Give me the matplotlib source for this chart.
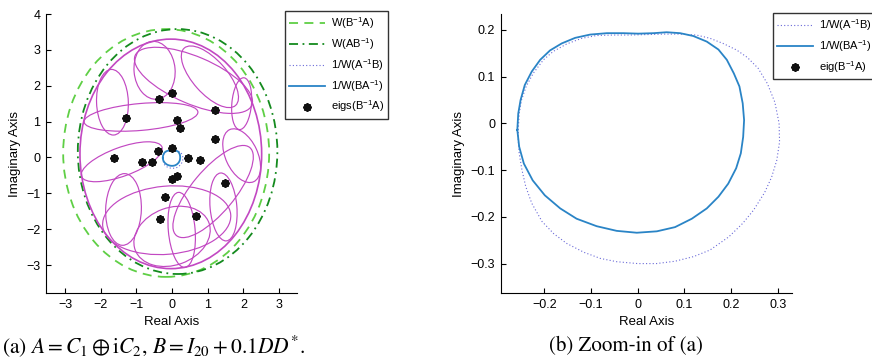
import numpy as np
import matplotlib
matplotlib.use("Agg")
import matplotlib.pyplot as plt
from matplotlib.patches import Ellipse
from matplotlib.lines import Line2D

plt.rcParams["font.family"] = ["Liberation Sans", "DejaVu Sans"]
plt.rcParams["mathtext.default"] = "regular"
plt.rcParams["mathtext.fontset"] = "stix"

# --- eigenvalues of B^-1 A ---
eig_re = [-0.37, 0.00, -1.30, 1.19, 0.15, 0.21, 1.20, 0.00, -0.38, -1.64,
          -0.85, -0.57, 0.46, 0.78, 0.13, -0.01, 1.49, -0.20, -0.33, 0.67]
eig_im = [1.63, 1.79, 1.10, 1.31, 1.04, 0.81, 0.52, 0.25, 0.18, -0.02,
          -0.12, -0.14, -0.02, -0.07, -0.51, -0.59, -0.71, -1.09, -1.72, -1.63]

# --- field of values boundaries (ellipse fits: centre, full axes) ---
w_ba_center = (-0.165, 0.125)
w_ba_axes = (5.77, 6.91)
w_ab_center = (0.155, 0.165)
w_ab_axes = (5.59, 6.83)

# magenta curves (ellipse fits): outer envelope first, then inner loops
loop_cx = [-0.035, -1.67, -0.49, 0.60, 1.06, 1.95, 1.95, -0.87, -1.41,
           -1.36, -0.15, 0.00, 0.27, 1.44, 1.15]
loop_cy = [0.10, 1.54, 2.43, 2.15, 2.25, 1.50, 0.05, 1.13, -0.12,
           -1.45, -1.75, -2.20, -2.02, -1.38, -0.95]
loop_w = [5.09, 1.83, 1.62, 3.55, 2.15, 1.45, 1.60, 3.20, 2.40,
          2.00, 3.60, 2.20, 2.10, 1.90, 3.20]
loop_h = [6.40, 0.89, 1.15, 1.32, 0.95, 0.55, 0.90, 0.75, 0.80,
          1.00, 1.90, 1.60, 0.75, 0.75, 1.20]
loop_ang = [0, 92, 95, -23, -48, 85, -65, 5, 20,
            88, 5, 20, 95, 95, 50]

# --- 1/W(BA^-1) (solid blue) ---
inv_ba_re = [-0.258, -0.256, -0.251, -0.242, -0.227, -0.209, -0.188, -0.163, -0.134,
             -0.102, -0.066, -0.031, 0.001, 0.034, 0.062, 0.091, 0.119, 0.148, 0.173,
             0.191, 0.206, 0.218, 0.225, 0.228, 0.226, 0.221, 0.211, 0.194, 0.173,
             0.148, 0.116, 0.080, 0.041, -0.002, -0.045, -0.088, -0.131, -0.166,
             -0.199, -0.225, -0.244, -0.254, -0.258]
inv_ba_im = [-0.014, 0.021, 0.050, 0.082, 0.111, 0.136, 0.156, 0.171, 0.183,
             0.190, 0.193, 0.193, 0.192, 0.193, 0.195, 0.193, 0.187, 0.175, 0.158,
             0.136, 0.107, 0.079, 0.043, 0.007, -0.029, -0.064, -0.096, -0.129, -0.157,
             -0.182, -0.204, -0.222, -0.231, -0.234, -0.230, -0.220, -0.204, -0.182,
             -0.154, -0.122, -0.086, -0.050, -0.014]

# --- 1/W(A^-1B) (dotted) ---
inv_ab_re = [-0.256, -0.254, -0.249, -0.239, -0.224, -0.202, -0.181, -0.152, -0.120,
             -0.088, -0.052, -0.017, 0.019, 0.055, 0.091, 0.126, 0.155, 0.183, 0.212,
             0.235, 0.258, 0.278, 0.294, 0.303, 0.304, 0.298, 0.287, 0.272, 0.248,
             0.225, 0.195, 0.155, 0.120, 0.080, 0.040, 0.000, -0.045, -0.080, -0.115,
             -0.152, -0.180, -0.205, -0.227, -0.240, -0.248, -0.254, -0.256, -0.256]
inv_ab_im = [-0.014, 0.021, 0.050, 0.079, 0.107, 0.136, 0.154, 0.170, 0.182,
             0.188, 0.189, 0.189, 0.190, 0.191, 0.191, 0.189, 0.182, 0.171, 0.157,
             0.141, 0.118, 0.085, 0.045, 0.000, -0.040, -0.079, -0.115, -0.148, -0.186,
             -0.214, -0.243, -0.271, -0.285, -0.295, -0.300, -0.300, -0.296, -0.289, -0.276,
             -0.257, -0.236, -0.210, -0.171, -0.135, -0.100, -0.064, -0.036, -0.014]

c_light = "#5fcf45"
c_dark = "#148a1e"
c_dot = "#6a6ad8"
c_blue = "#2a84c6"
c_mag = "#c248c2"
ls_dash = (0, (5, 3.5))
ls_dashdot = (0, (5, 2.5, 1, 2.5))
ls_dot = (0, (1, 2))
eig_style = dict(ls="none", marker=(8, 2, 0), ms=6, mew=1.4, color="#111111")


def style_axes(ax):
    for s in ["top", "right"]:
        ax.spines[s].set_visible(False)
    ax.tick_params(direction="in", length=3.5, labelsize=9, pad=4)
    ax.set_xlabel("Real Axis", fontsize=9.5, labelpad=4)
    ax.set_ylabel("Imaginary Axis", fontsize=9.5, labelpad=4)


def minus(v, pos):
    return f"{v:g}".replace("-", "\u2212")


fig = plt.figure(figsize=(8.72, 3.64), dpi=100)
ax1 = fig.add_axes([0.0528, 0.195, 0.2878, 0.7665])
ax2 = fig.add_axes([0.5742, 0.195, 0.3337, 0.7665])

# ---------------- (a) ----------------
ax1.add_patch(Ellipse(w_ba_center, *w_ba_axes, fill=False, ec=c_light, lw=1.3, ls=ls_dash))
ax1.add_patch(Ellipse(w_ab_center, *w_ab_axes, fill=False, ec=c_dark, lw=1.3, ls=ls_dashdot))
for i, (cx, cy, w, h, a) in enumerate(zip(loop_cx, loop_cy, loop_w, loop_h, loop_ang)):
    ax1.add_patch(Ellipse((cx, cy), w, h, angle=a, fill=False, ec=c_mag,
                          lw=1.2 if i == 0 else 0.85))
ax1.plot(inv_ab_re, inv_ab_im, ls=ls_dot, color=c_dot, lw=0.8)
ax1.plot(inv_ba_re, inv_ba_im, color=c_blue, lw=1.3)
ax1.plot(eig_re, eig_im, **eig_style)

ax1.set_xlim(-3.53, 3.5)
ax1.set_ylim(-3.78, 4.0)
ax1.set_xticks([-3, -2, -1, 0, 1, 2, 3])
ax1.set_yticks([-3, -2, -1, 0, 1, 2, 3, 4])
ax1.xaxis.set_major_formatter(minus)
ax1.yaxis.set_major_formatter(minus)
style_axes(ax1)

h1 = [
    Line2D([], [], color=c_light, lw=1.3, ls=ls_dash),
    Line2D([], [], color=c_dark, lw=1.3, ls=ls_dashdot),
    Line2D([], [], color=c_dot, lw=0.8, ls=ls_dot),
    Line2D([], [], color=c_blue, lw=1.3),
    Line2D([], [], **eig_style),
]
l1 = ["W(B$^{-1}$A)", "W(AB$^{-1}$)", "1/W(A$^{-1}$B)", "1/W(BA$^{-1}$)", "eigs(B$^{-1}$A)"]
fig.legend(h1, l1, loc="upper left", bbox_to_anchor=(285 / 872, 1 - 11 / 364),
           fontsize=8, frameon=True, fancybox=False, edgecolor="black",
           handlelength=3.2, handletextpad=0.5, labelspacing=0.45,
           borderpad=0.4, borderaxespad=0).get_frame().set_linewidth(1.0)

# ---------------- (b) ----------------
ax2.plot(inv_ab_re, inv_ab_im, ls=ls_dot, color=c_dot, lw=0.8)
ax2.plot(inv_ba_re, inv_ba_im, color=c_blue, lw=1.3, solid_joinstyle="round")
ax2.plot(eig_re, eig_im, **eig_style)
ax2.set_xlim(-0.2936, 0.33)
ax2.set_ylim(-0.363, 0.234)
ax2.set_xticks([-0.2, -0.1, 0, 0.1, 0.2, 0.3])
ax2.set_yticks([-0.3, -0.2, -0.1, 0, 0.1, 0.2])
ax2.xaxis.set_major_formatter(minus)
ax2.yaxis.set_major_formatter(minus)
style_axes(ax2)

h2 = h1[2:]
l2 = ["1/W(A$^{-1}$B)", "1/W(BA$^{-1}$)", "eig(B$^{-1}$A)"]
fig.legend(h2, l2, loc="upper left", bbox_to_anchor=(773 / 872, 1 - 13 / 364),
           fontsize=8, frameon=True, fancybox=False, edgecolor="black",
           handlelength=3.2, handletextpad=0.5, labelspacing=0.45,
           borderpad=0.4, borderaxespad=0).get_frame().set_linewidth(1.0)

# captions
fig.text(2 / 872, 1 - 346 / 364,
         r"(a) $\mathit{A} = \mathit{C}_1 \oplus \mathrm{i}\mathit{C}_2$, "
         r"$\mathit{B} = \mathit{I}_{20} + 0.1\mathit{DD}^{*}$.",
         fontsize=15.5, family="STIXGeneral", va="center", ha="left")
fig.text(626 / 872, 1 - 346 / 364, "(b) Zoom-in of (a)",
         fontsize=15, family="STIXGeneral", va="center", ha="center")

fig.savefig("out.png", dpi=100)
